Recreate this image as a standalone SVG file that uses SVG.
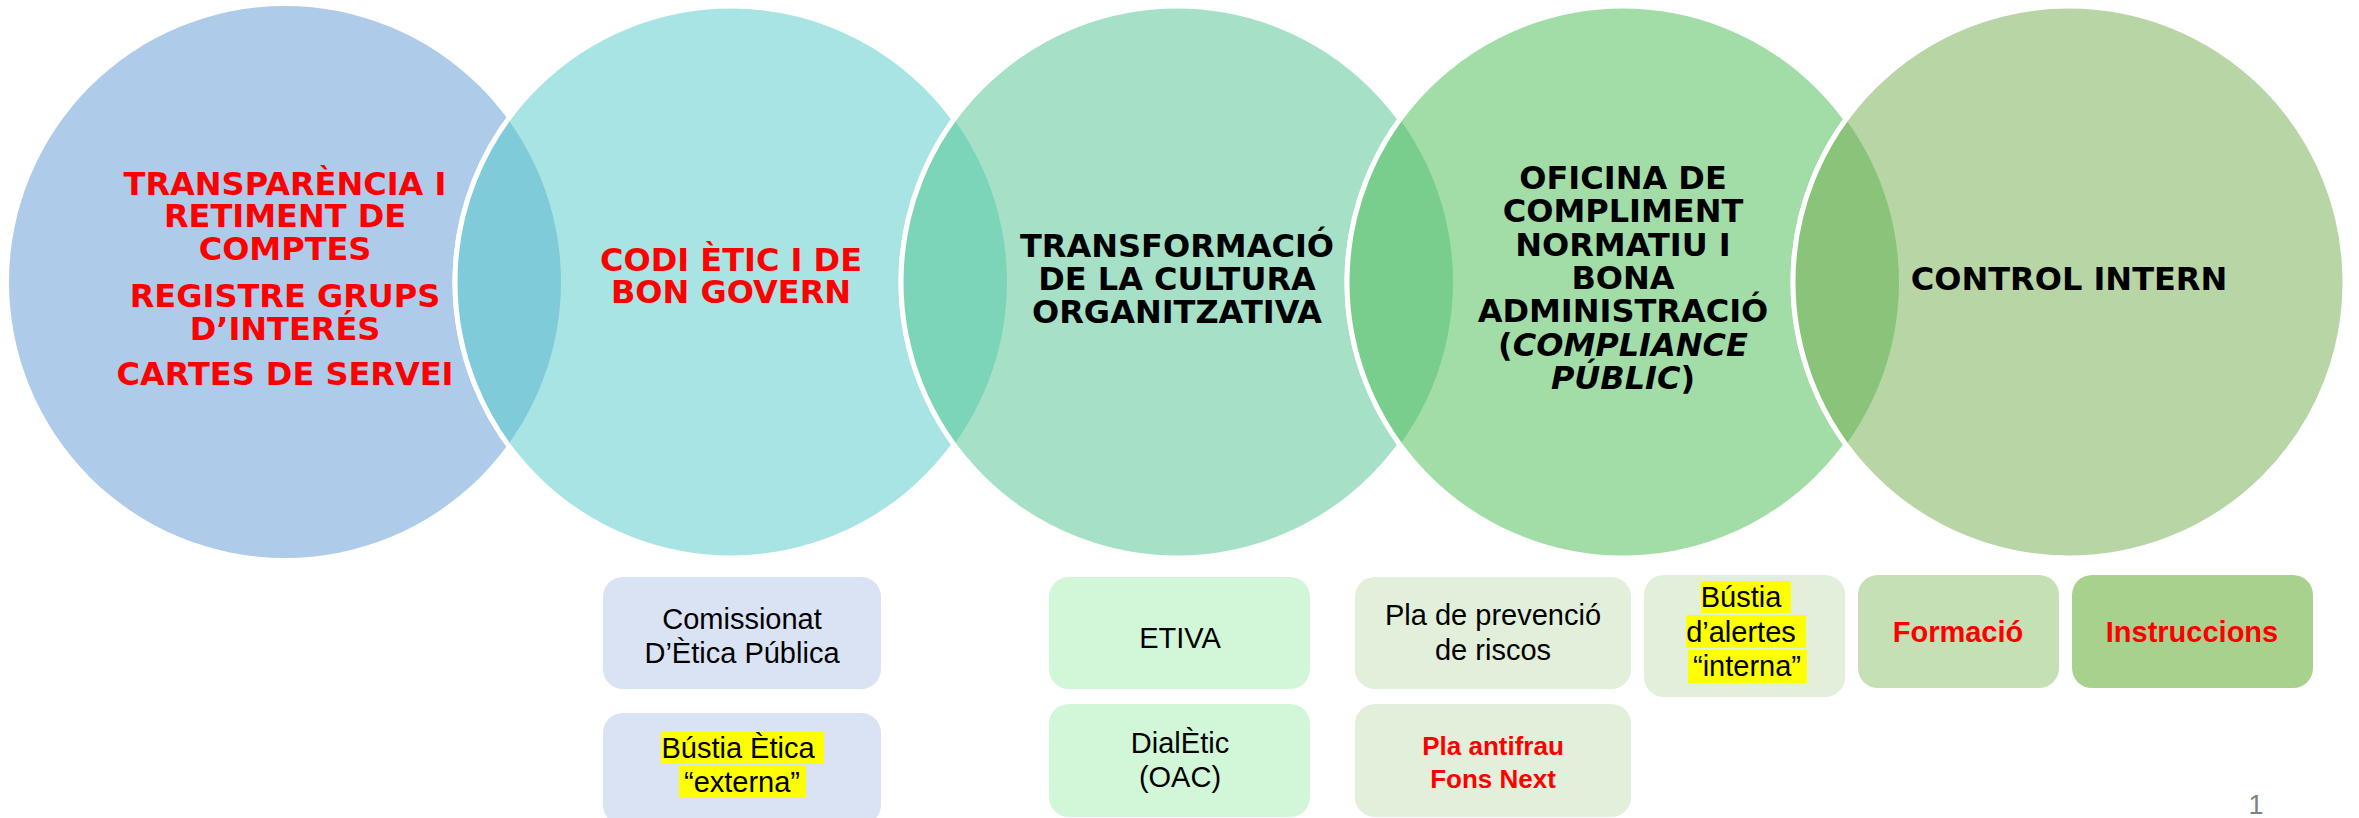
<svg xmlns="http://www.w3.org/2000/svg" width="2359" height="818" viewBox="0 0 2359 818">
<style>
.ct{font-family:"DejaVu Sans","Liberation Sans",sans-serif;font-weight:bold;font-size:32px;text-anchor:middle}
.red{fill:#FF0000}
.blk{fill:#000000}
.it{font-style:italic}
.bt{font-family:"Liberation Sans",Arial,sans-serif;font-size:29px;text-anchor:middle;fill:#000}
.bb{font-family:"Liberation Sans",Arial,sans-serif;font-weight:bold;text-anchor:middle;fill:#FF0000}
.hl{fill:#FFFF00}
.edge{stroke:#FFFFFF;stroke-width:5}
</style>
<defs>
<clipPath id="k1"><circle cx="285" cy="282" r="276"/></clipPath>
<clipPath id="k2"><circle cx="731" cy="282" r="276"/></clipPath>
<clipPath id="k3"><circle cx="1177" cy="282" r="276"/></clipPath>
<clipPath id="k4"><circle cx="1623" cy="282" r="276"/></clipPath>
</defs>
<rect width="2359" height="818" fill="#FFFFFF"/>

<g id="n1">
<circle cx="285" cy="282" r="276" fill="#AECBE9"/>
<text class="ct red"><tspan x="285" y="195">TRANSPARÈNCIA I</tspan><tspan x="285" y="227">RETIMENT DE</tspan><tspan x="285" y="260">COMPTES</tspan><tspan x="285" y="307">REGISTRE GRUPS</tspan><tspan x="285" y="340">D’INTERÉS</tspan><tspan x="285" y="385">CARTES DE SERVEI</tspan></text>
</g>

<g id="n2">
<circle cx="731" cy="282" r="276" fill="#A8E4E4" class="edge"/>
<circle cx="731" cy="282" r="276" fill="#80CBD9" class="edge" clip-path="url(#k1)"/>
<text class="ct red"><tspan x="731" y="271">CODI ÈTIC I DE</tspan><tspan x="731" y="303">BON GOVERN</tspan></text>
</g>

<g id="n3">
<circle cx="1177" cy="282" r="276" fill="#A6E1C7" class="edge"/>
<circle cx="1177" cy="282" r="276" fill="#7DD5B9" class="edge" clip-path="url(#k2)"/>
<text class="ct blk"><tspan x="1177" y="257">TRANSFORMACIÓ</tspan><tspan x="1177" y="290">DE LA CULTURA</tspan><tspan x="1177" y="323">ORGANITZATIVA</tspan></text>
</g>

<g id="n4">
<circle cx="1623" cy="282" r="276" fill="#A2DDA8" class="edge"/>
<circle cx="1623" cy="282" r="276" fill="#79CE8E" class="edge" clip-path="url(#k3)"/>
<text class="ct blk"><tspan x="1623" y="189">OFICINA DE</tspan><tspan x="1623" y="222">COMPLIMENT</tspan><tspan x="1623" y="256">NORMATIU I</tspan><tspan x="1623" y="289">BONA</tspan><tspan x="1623" y="322">ADMINISTRACIÓ</tspan><tspan x="1623" y="356">(<tspan class="it">COMPLIANCE</tspan></tspan><tspan x="1623" y="389"><tspan class="it">PÚBLIC</tspan>)</tspan></text>
</g>

<g id="n5">
<circle cx="2069" cy="282" r="276" fill="#B8D6A5" class="edge"/>
<circle cx="2069" cy="282" r="276" fill="#8AC47B" class="edge" clip-path="url(#k4)"/>
<text class="ct blk" x="2069" y="290">CONTROL INTERN</text>
</g>

<g id="b-comissionat">
<rect x="603" y="577" width="278" height="112" rx="20" fill="#DAE3F3"/>
<text class="bt"><tspan x="742" y="629">Comissionat</tspan><tspan x="742" y="663">D’Ètica Pública</tspan></text>
</g>
<g id="b-bustia-externa">
<rect x="603" y="713" width="278" height="112" rx="20" fill="#DAE3F3"/>
<rect class="hl" x="661" y="732" width="163" height="32"/>
<rect class="hl" x="679" y="765" width="127" height="33"/>
<text class="bt"><tspan x="742" y="758">Bústia Ètica </tspan><tspan x="742" y="792">“externa”</tspan></text>
</g>
<g id="b-etiva">
<rect x="1049" y="577" width="261" height="112" rx="20" fill="#D1F7D8"/>
<text class="bt" x="1180" y="648">ETIVA</text>
</g>
<g id="b-dialetic">
<rect x="1049" y="704" width="261" height="113" rx="20" fill="#D1F7D8"/>
<text class="bt"><tspan x="1180" y="753">DialÈtic</tspan><tspan x="1180" y="787">(OAC)</tspan></text>
</g>
<g id="b-pla-prevencio">
<rect x="1355" y="577" width="276" height="112" rx="20" fill="#E2EFDA"/>
<text class="bt"><tspan x="1493" y="625">Pla de prevenció</tspan><tspan x="1493" y="660">de riscos</tspan></text>
</g>
<g id="b-bustia-interna">
<rect x="1644" y="575" width="201" height="122" rx="20" fill="#E2EFDA"/>
<rect class="hl" x="1701" y="581" width="90" height="32"/>
<rect class="hl" x="1686" y="615" width="120" height="33"/>
<rect class="hl" x="1688" y="650" width="119" height="33"/>
<text class="bt"><tspan x="1745" y="607">Bústia </tspan><tspan x="1745" y="642">d’alertes </tspan><tspan x="1747" y="676">“interna”</tspan></text>
</g>
<g id="b-formacio">
<rect x="1858" y="575" width="201" height="113" rx="20" fill="#C5E0B4"/>
<text class="bb" x="1958" y="642" font-size="29">Formació</text>
</g>
<g id="b-instruccions">
<rect x="2072" y="575" width="241" height="113" rx="20" fill="#A9D18E"/>
<text class="bb" x="2192" y="642" font-size="29">Instruccions</text>
</g>
<g id="b-antifrau">
<rect x="1355" y="704" width="276" height="113" rx="20" fill="#E2EFDA"/>
<text class="bb" font-size="26"><tspan x="1493" y="755">Pla antifrau</tspan><tspan x="1493" y="788">Fons Next</tspan></text>
</g>
<g id="connectors"/>
<text x="2256" y="814" font-family="Liberation Sans, Arial, sans-serif" font-size="27" fill="#808080" text-anchor="middle">1</text>
</svg>
